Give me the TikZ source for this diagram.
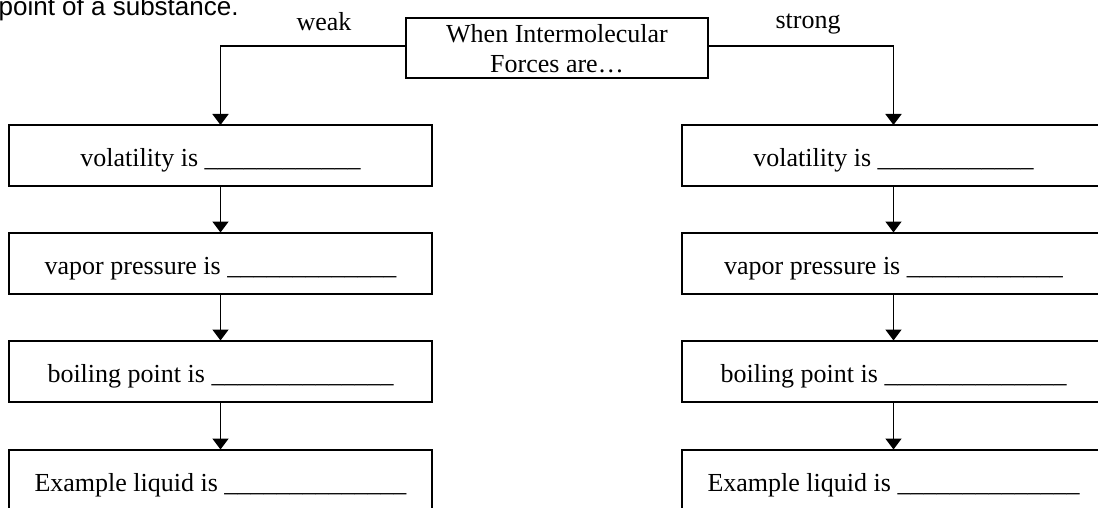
\documentclass[tikz,border=0pt]{standalone}
\usepackage{fontspec}
\setmainfont{Liberation Serif}
\newfontfamily\arialfont{Liberation Sans}
\usetikzlibrary{arrows.meta}
\newcommand\ublanks[1]{\foreach \k in {1,...,#1}{\_}}
\begin{document}
\begin{tikzpicture}[x=0.5pt,y=-0.5pt,
  box/.style={draw,line width=1pt,minimum width=211.5pt,minimum height=30.5pt,
    inner sep=0pt,outer sep=0pt,text height=11.5pt,text depth=0pt,
    font=\fontsize{13}{15}\selectfont},
  arr/.style={line width=0.9pt,-{Triangle[width=8pt,length=5.5pt]}},
  lab/.style={font=\fontsize{13}{15}\selectfont,anchor=base,inner sep=0pt}]
\useasboundingbox (0,0) rectangle (1098,508);

\node[font=\arialfont\fontsize{13}{15}\selectfont,anchor=base east,inner sep=0pt]
  (intro) at (239,15.5) {point of a substance.};

\node[draw,line width=1pt,minimum width=151pt,minimum height=30pt,inner sep=0pt,
  outer sep=0pt,align=center,font=\fontsize{13}{15}\selectfont]
  (top) at (557,48.3) {When Intermolecular\\Forces are…};

\node[lab] (weak) at (324,31) {weak};
\node[lab] (strong) at (808,29) {strong};

% left column
\node[box] (l1) at (220.5,155.5) {volatility is \ublanks{12}};
\node[box] (l2) at (220.5,263) {vapor pressure is \ublanks{13}};
\node[box] (l3) at (220.5,371) {boiling point is \ublanks{14}};
\node[box] (l4) at (220.5,480) {Example liquid is \ublanks{14}};

% right column
\node[box] (r1) at (893.5,155.5) {volatility is \ublanks{12}};
\node[box] (r2) at (893.5,263) {vapor pressure is \ublanks{12}};
\node[box] (r3) at (893.5,371) {boiling point is \ublanks{14}};
\node[box] (r4) at (893.5,480) {Example liquid is \ublanks{14}};

\draw[arr] ([yshift=1pt]top.west) -| (l1.north);
\draw[arr] ([yshift=1pt]top.east) -| (r1.north);
\draw[arr] (l1) -- (l2);
\draw[arr] (l2) -- (l3);
\draw[arr] (l3) -- (l4);
\draw[arr] (r1) -- (r2);
\draw[arr] (r2) -- (r3);
\draw[arr] (r3) -- (r4);
\end{tikzpicture}
\end{document}
